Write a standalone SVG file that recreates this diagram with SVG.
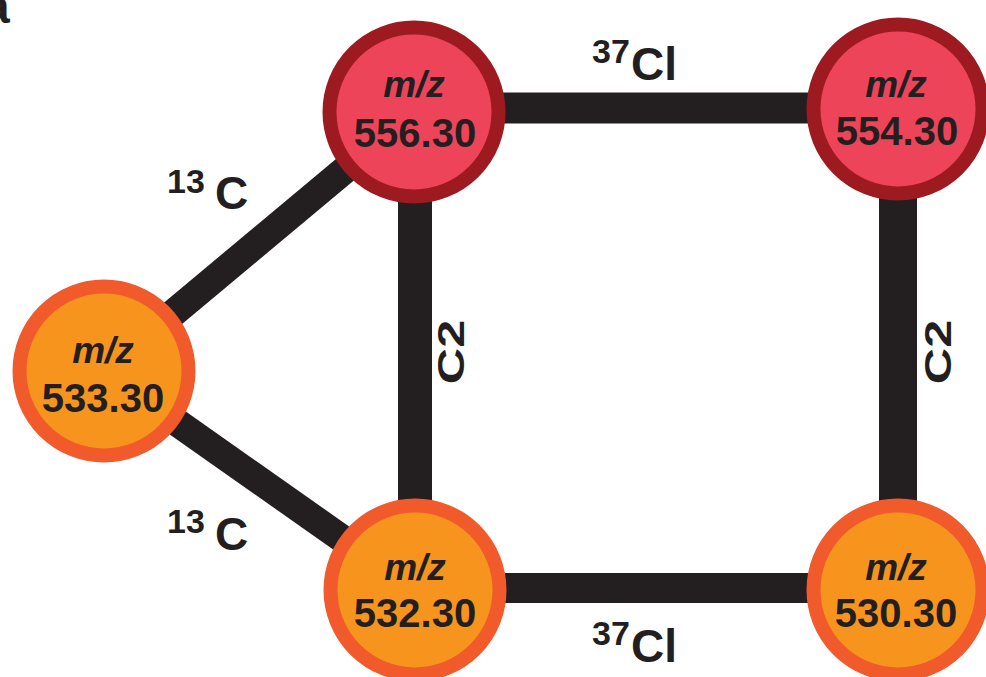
<svg xmlns="http://www.w3.org/2000/svg" width="986" height="677" viewBox="0 0 986 677">
<style>
  .bg{fill:#ffffff}
  .edge{stroke:#231F20;fill:none;stroke-linecap:butt}
  .red{fill:#EE4459;stroke:#9D1B20;stroke-width:14}
  .orange{fill:#F7941E;stroke:#F15A2B;stroke-width:14}
  text{font-family:"Liberation Sans",Arial,sans-serif;font-weight:bold;fill:#231F20}
  .mz{font-size:37px;font-style:italic;text-anchor:middle}
  .num{font-size:40px;text-anchor:middle}
  .sup{font-size:34px}
  .big{font-size:46px}
  .c2{font-size:36px;text-anchor:middle}
</style>
<rect class="bg" x="0" y="0" width="986" height="677"/>
<text x="-17" y="23" style="font-size:48px">a</text>
<g id="connectors">
  <line class="edge" x1="104" y1="371" x2="414" y2="112" stroke-width="28"/>
  <line class="edge" x1="104" y1="371" x2="415" y2="590" stroke-width="28"/>
  <line class="edge" x1="414" y1="108" x2="898" y2="108" stroke-width="31"/>
  <line class="edge" x1="415" y1="112" x2="415" y2="590" stroke-width="34"/>
  <line class="edge" x1="898" y1="108" x2="898" y2="590" stroke-width="38"/>
  <line class="edge" x1="415" y1="588" x2="898" y2="588" stroke-width="30"/>
</g>
<g id="edge-labels">
  <text x="592" y="63" class="sup">37</text><text x="631" y="80" class="big">Cl</text>
  <text x="592" y="645" class="sup">37</text><text x="631" y="662" class="big">Cl</text>
  <text x="167" y="193" class="sup">13</text><text x="215" y="209" class="big">C</text>
  <text x="167" y="533" class="sup">13</text><text x="215" y="550" class="big">C</text>
  <text class="c2" transform="translate(464,352) rotate(-90) scale(1.4,1)">C2</text>
  <text class="c2" transform="translate(951,352) rotate(-90) scale(1.4,1)">C2</text>
</g>
<g id="node-556">
  <circle class="red" cx="414" cy="112" r="84.5"/>
  <text class="mz" x="414" y="97">m/z</text>
  <text class="num" x="415" y="147">556.30</text>
</g>
<g id="node-554">
  <circle class="red" cx="898" cy="109" r="84.5"/>
  <text class="mz" x="896" y="97">m/z</text>
  <text class="num" x="897" y="145">554.30</text>
</g>
<g id="node-533">
  <circle class="orange" cx="104" cy="371" r="84.5"/>
  <text class="mz" x="103" y="363">m/z</text>
  <text class="num" x="103" y="412">533.30</text>
</g>
<g id="node-532">
  <circle class="orange" cx="415" cy="590" r="84.5"/>
  <text class="mz" x="415" y="580">m/z</text>
  <text class="num" x="415" y="627">532.30</text>
</g>
<g id="node-530">
  <circle class="orange" cx="898" cy="590" r="84.5"/>
  <text class="mz" x="896" y="580">m/z</text>
  <text class="num" x="896" y="627">530.30</text>
</g>
</svg>
